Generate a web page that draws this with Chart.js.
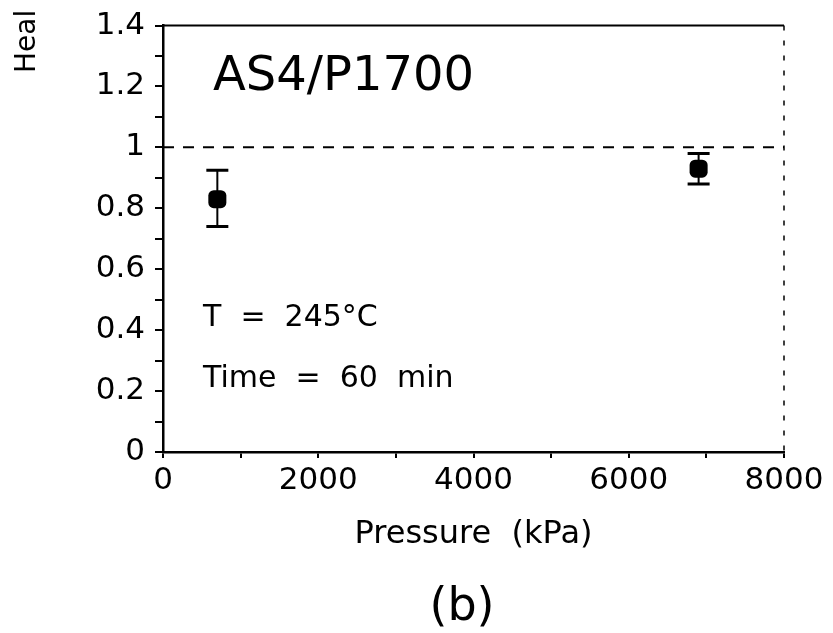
<!doctype html>
<html lang="en">
<head>
  <meta charset="utf-8">
  <script src="https://cdn.jsdelivr.net/npm/chart.js@4/dist/chart.umd.min.js"></script>
  <style>
    body { margin: 0; background: #fff; }
  </style>
</head>
<body>
<canvas id="chart" width="833" height="633"></canvas>
<script>
  // healing vs. pressure, AS4/P1700, T = 245 C, 60 min
  const pressure = [700, 6900];
  const healing = [0.83, 0.93];
  const errLow = [0.74, 0.88];
  const errHigh = [0.925, 0.98];

  const refLevel = 1.0;
  const xLabels = [0, 2000, 4000, 6000, 8000];
  const yLabels = [0, 0.2, 0.4, 0.6, 0.8, 1, 1.2, 1.4];

  const FONT = "'DejaVu Sans', 'Liberation Sans', sans-serif";

  // error bars on top of the points
  const errorBars = {
    id: 'errorBars',
    afterDatasetsDraw(chart) {
      const ctx = chart.ctx, x = chart.scales.x, y = chart.scales.y;
      ctx.save();
      ctx.strokeStyle = '#000';
      for (let i = 0; i < pressure.length; i++) {
        const px = x.getPixelForValue(pressure[i]);
        const lo = y.getPixelForValue(errLow[i]);
        const hi = y.getPixelForValue(errHigh[i]);
        ctx.lineWidth = 2;
        ctx.beginPath();
        ctx.moveTo(px, lo);
        ctx.lineTo(px, hi);
        ctx.stroke();
        ctx.lineWidth = 3;
        ctx.beginPath();
        ctx.moveTo(px - 11, lo); ctx.lineTo(px + 11, lo);
        ctx.moveTo(px - 11, hi); ctx.lineTo(px + 11, hi);
        ctx.stroke();
      }
      ctx.restore();
    }
  };

  // frame and the free text
  const labels = {
    id: 'labels',
    afterDraw(chart) {
      const ctx = chart.ctx, a = chart.chartArea;
      ctx.save();
      ctx.strokeStyle = '#000';
      ctx.lineWidth = 2;
      ctx.beginPath();
      ctx.moveTo(a.left, a.top); ctx.lineTo(a.right, a.top);
      ctx.stroke();
      ctx.setLineDash([5, 10]);
      ctx.lineWidth = 1.5;
      ctx.beginPath();
      ctx.moveTo(a.right, a.top); ctx.lineTo(a.right, a.bottom);
      ctx.stroke();
      ctx.setLineDash([]);

      ctx.fillStyle = '#000';
      ctx.textBaseline = 'alphabetic';
      ctx.textAlign = 'left';
      ctx.font = '48px ' + FONT;
      ctx.fillText('AS4/P1700', a.left + 50, 90);
      ctx.font = '30px ' + FONT;
      ctx.fillText('T  =  245°C', a.left + 40, 326);
      ctx.fillText('Time  =  60  min', a.left + 40, 387);

      ctx.textAlign = 'center';
      ctx.font = '32px ' + FONT;
      ctx.fillText('Pressure  (kPa)', (a.left + a.right) / 2, 543);
      ctx.font = '46px ' + FONT;
      ctx.fillText('(b)', 462, 620);

      ctx.translate(35, 73);
      ctx.rotate(-Math.PI / 2);
      ctx.textAlign = 'left';
      ctx.font = '28px ' + FONT;
      ctx.fillText('Heal', 0, 0);
      ctx.restore();
    }
  };

  new Chart(document.getElementById('chart'), {
    type: 'scatter',
    data: {
      datasets: [
        {
          data: pressure.map((p, i) => ({ x: p, y: healing[i] })),
          pointStyle: 'rectRounded',
          pointRadius: 10.5,
          backgroundColor: '#000',
          borderWidth: 0
        },
        {
          type: 'line',
          data: [{ x: 0, y: refLevel }, { x: 8000, y: refLevel }],
          borderColor: '#000',
          borderWidth: 2,
          borderDash: [11, 9],
          pointRadius: 0
        }
      ]
    },
    options: {
      responsive: false,
      animation: false,
      devicePixelRatio: 1,
      layout: { padding: { top: 24, right: 49, left: 0, bottom: 0 } },
      plugins: { legend: { display: false }, tooltip: { enabled: false } },
      scales: {
        x: {
          type: 'linear', min: 0, max: 8000,
          afterFit(s) { s.height = 181; },
          ticks: {
            stepSize: 1000, autoSkip: false, maxRotation: 0, padding: 4,
            color: '#000', font: { family: FONT, size: 31 },
            callback: v => xLabels.includes(v) ? String(v) : ''
          },
          grid: { drawOnChartArea: false, tickLength: 6, color: '#000', lineWidth: 2 },
          border: { color: '#000', width: 2.5 }
        },
        y: {
          min: 0, max: 1.4,
          afterFit(s) { s.width = 163; },
          ticks: {
            stepSize: 0.1, autoSkip: false, padding: 10,
            color: '#000', font: { family: FONT, size: 31, lineHeight: 1 },
            callback: v => {
              const r = Math.round(v * 10) / 10;
              return yLabels.includes(r) ? String(r) : '';
            }
          },
          grid: { drawOnChartArea: false, tickLength: 8, color: '#000', lineWidth: 2 },
          border: { color: '#000', width: 2.5 }
        }
      }
    },
    plugins: [errorBars, labels]
  });
</script>
</body>
</html>
